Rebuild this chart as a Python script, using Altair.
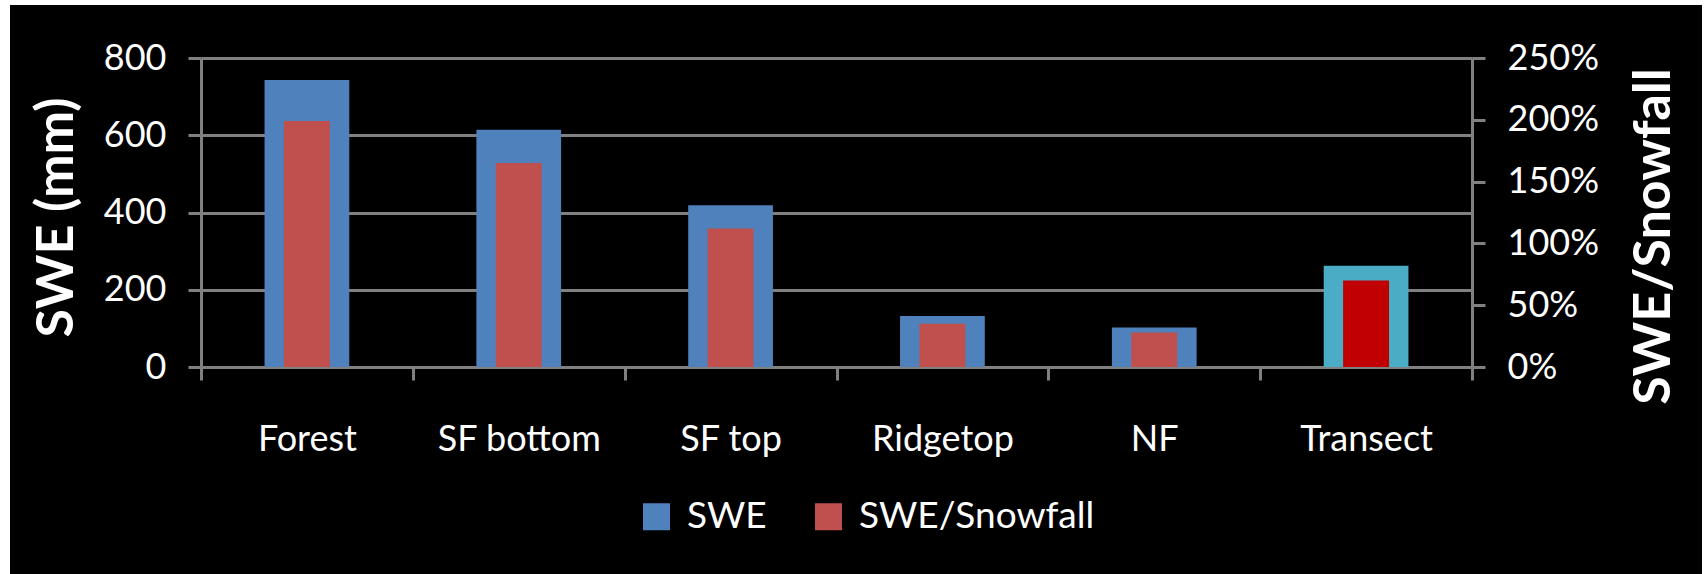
import altair as alt
import pandas as pd

# Snow water equivalent per site and its ratio to total snowfall
categories = ["Forest", "SF bottom", "SF top", "Ridgetop", "NF", "Transect"]
swe_mm = [743, 614, 419, 132, 102, 262]
swe_snowfall = [1.99, 1.65, 1.12, 0.35, 0.28, 0.70]

series_names = ["SWE", "SWE/Snowfall"]
series_colors = ["#4F81BD", "#C0504D"]

df = pd.DataFrame({"category": categories, "swe": swe_mm, "ratio": swe_snowfall})

GRAY = "#808080"
FONT = "Lato"

color_scale = alt.Scale(domain=series_names, range=series_colors)
legend = alt.Legend(
    title=None,
    orient="none",
    direction="horizontal",
    legendX=437,
    legendY=440,
    symbolType="square",
    symbolSize=729,
    symbolStrokeWidth=0,
    labelColor="white",
    labelFont=FONT,
    labelFontSize=37,
    labelOffset=12,
    labelLimit=400,
    columnPadding=43,
    padding=0,
)

x_enc = alt.X(
    "category:N",
    sort=categories,
    scale=alt.Scale(paddingInner=0, paddingOuter=0),
    axis=alt.Axis(
        title=None,
        labelAngle=0,
        labelColor="white",
        labelFont=FONT,
        labelFontSize=36,
        labelPadding=42,
        tickBand="extent",
        tickColor=GRAY,
        tickWidth=3,
        tickSize=13,
        domainColor=GRAY,
        domainWidth=3,
    ),
)

base = alt.Chart(df).encode(x=x_enc)

swe_bars = (
    base.transform_calculate(series="'SWE'")
    .mark_bar(width=alt.RelativeBandSize(0.4))
    .encode(
        y=alt.Y(
            "swe:Q",
            scale=alt.Scale(domain=[0, 800], nice=False),
            axis=alt.Axis(
                values=[0, 200, 400, 600, 800],
                grid=True,
                gridColor=GRAY,
                gridWidth=3,
                domainColor=GRAY,
                domainWidth=3,
                tickColor=GRAY,
                tickWidth=3,
                tickSize=13,
                labelColor="white",
                labelFont=FONT,
                labelFontSize=36,
                labelPadding=22,
                title="SWE (mm)",
                titleColor="white",
                titleFont=FONT,
                titleFontSize=52,
                titleFontWeight="bold",
                titleAngle=270,
                titleAlign="center",
                titleBaseline="alphabetic",
                titleX=-129,
                titleY=159,
            ),
        ),
        color=alt.condition(
            alt.datum.category == "Transect",
            alt.value("#4BACC6"),
            alt.Color("series:N", scale=color_scale, legend=legend),
        ),
    )
)

ratio_bars = (
    base.transform_calculate(series="'SWE/Snowfall'")
    .mark_bar(width=alt.RelativeBandSize(0.217))
    .encode(
        y=alt.Y(
            "ratio:Q",
            scale=alt.Scale(domain=[0, 2.5], nice=False),
            axis=alt.Axis(
                orient="right",
                values=[0, 0.5, 1, 1.5, 2, 2.5],
                format=".0%",
                grid=False,
                domainColor=GRAY,
                domainWidth=3,
                tickColor=GRAY,
                tickWidth=3,
                tickSize=13,
                labelColor="white",
                labelFont=FONT,
                labelFontSize=36,
                labelPadding=22,
                title="SWE/Snowfall",
                titleColor="white",
                titleFont=FONT,
                titleFontSize=52,
                titleFontWeight="bold",
                titleAngle=270,
                titleAlign="center",
                titleBaseline="alphabetic",
                titleX=197,
                titleY=178,
            ),
        ),
        color=alt.condition(
            alt.datum.category == "Transect",
            alt.value("#C00000"),
            alt.Color("series:N", scale=color_scale, legend=legend),
        ),
    )
)

# thin white frame around the black canvas
frame = alt.Data(values=[{}])
frame_left = alt.Chart(frame).mark_rect(color="white").encode(
    x=alt.value(-201), x2=alt.value(-191), y=alt.value(-58), y2=alt.value(516)
)
frame_top = alt.Chart(frame).mark_rect(color="white").encode(
    x=alt.value(-201), x2=alt.value(1507), y=alt.value(-58), y2=alt.value(-53)
)
frame_right = alt.Chart(frame).mark_rect(color="white").encode(
    x=alt.value(1501), x2=alt.value(1507), y=alt.value(-58), y2=alt.value(516)
)

chart = (
    alt.layer(swe_bars, ratio_bars, frame_left, frame_top, frame_right)
    .resolve_scale(y="independent")
    .properties(
        width=1271,
        height=309,
        background="black",
        padding={"left": 201, "top": 58, "right": 236, "bottom": 207},
        autosize=alt.AutoSizeParams(type="none"),
    )
    .configure_view(strokeWidth=0)
)

chart.save("out.html", embed_options={"renderer": "svg", "actions": False})
